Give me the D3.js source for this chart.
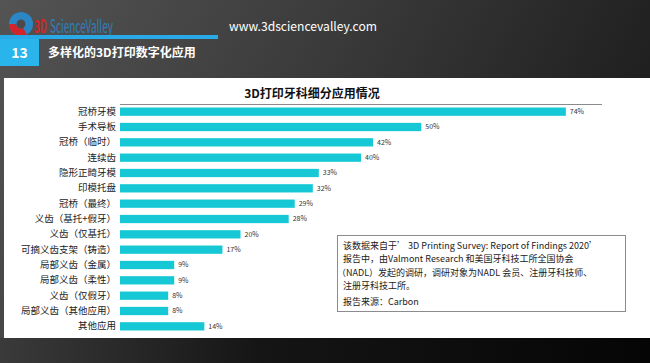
<!DOCTYPE html>
<html><head><meta charset="utf-8">
<script src="https://cdn.jsdelivr.net/npm/d3@7"></script>
<style>
html,body{margin:0;padding:0;background:#2a2a2a;}
svg{display:block;}
text{font-family:"Noto Sans CJK SC","Noto Sans",sans-serif;}
</style></head>
<body>
<svg id="c" width="650" height="363"></svg>
<script>
const categories = ["冠桥牙模","手术导板","冠桥（临时）","连续齿","隐形正畸牙模","印模托盘","冠桥（最终）","义齿（基托+假牙）","义齿（仅基托）","可摘义齿支架（铸造）","局部义齿（金属）","局部义齿（柔性）","义齿（仅假牙）","局部义齿（其他应用）","其他应用"];
const values = [74,50,42,40,33,32,29,28,20,17,9,9,8,8,14];
const chartTitle = "3D打印牙科细分应用情况";
const noteLines = ["该数据来自于’ 3D Printing Survey: Report of Findings 2020’","报告中，由Valmont Research 和美国牙科技工所全国协会","（NADL）发起的调研，调研对象为NADL 会员、注册牙科技师、","注册牙科技工所。","报告来源：Carbon"];

const svg = d3.select("#c");
const defs = svg.append("defs");
const g1 = defs.append("linearGradient").attr("id","bg").attr("x1","0").attr("y1","0").attr("x2","1").attr("y2","0.3");
g1.append("stop").attr("offset","0").attr("stop-color","#545454");
g1.append("stop").attr("offset","0.5").attr("stop-color","#3a3a3a");
g1.append("stop").attr("offset","1").attr("stop-color","#1e1e1e");
const g2 = defs.append("linearGradient").attr("id","bot").attr("x1","0").attr("y1","0").attr("x2","1").attr("y2","0");
g2.append("stop").attr("offset","0").attr("stop-color","#3a3a3a");
g2.append("stop").attr("offset","0.4").attr("stop-color","#151515");
g2.append("stop").attr("offset","1").attr("stop-color","#050505");

svg.append("rect").attr("width",650).attr("height",363).attr("fill","url(#bg)");
svg.append("rect").attr("y",338).attr("width",650).attr("height",25).attr("fill","url(#bot)");

// logo
const logo = svg.append("g");
logo.append("circle").attr("cx",21).attr("cy",24).attr("r",12).attr("fill","#2a86c4");
logo.append("path").attr("d","M9,24 A12,12 0 0 0 27,34.4 L23,28 A5,5 0 0 1 16,24 Z").attr("fill","#d0262b");
logo.append("circle").attr("cx",21).attr("cy",24).attr("r",4.5).attr("fill","#4a4a4a");
function squeezed(txt, x0, w, fill, weight){
  const gg = logo.append("g");
  const t = gg.append("text").attr("x",0).attr("y",0).attr("font-size",18).attr("font-weight",weight).attr("fill",fill).text(txt);
  const nat = t.node().getComputedTextLength() || w;
  gg.attr("transform",`translate(${x0},33) scale(${w/nat},1)`);
}
squeezed("3D",34,13,"#d0262b","bold");
squeezed("ScienceValley",50,63,"#2f7fb8","normal");

svg.append("text").attr("x",229).attr("y",31).attr("font-size",12.5).attr("fill","#ffffff")
  .attr("font-family","'Open Sans',sans-serif").attr("textLength",148).attr("lengthAdjust","spacingAndGlyphs")
  .text("www.3dsciencevalley.com");

svg.append("rect").attr("x",0).attr("y",35).attr("width",218).attr("height",4).attr("fill","#29a9e6");
svg.append("rect").attr("x",0).attr("y",39).attr("width",39).attr("height",27).attr("fill","#29b4ec");
svg.append("text").attr("x",19.5).attr("y",58).attr("text-anchor","middle").attr("font-size",14).attr("font-weight","bold").attr("fill","#fff").text("13");
svg.append("text").attr("x",48).attr("y",57).attr("font-size",12).attr("font-weight","bold").attr("fill","#fff").text("多样化的3D打印数字化应用");

// panel
svg.append("rect").attr("x",4).attr("y",78).attr("width",646).attr("height",260).attr("fill","#ffffff");

svg.append("text").attr("x",312).attr("y",98).attr("text-anchor","middle").attr("font-size",12).attr("font-weight","bold").attr("fill","#111").text(chartTitle);

const x = d3.scaleLinear().domain([0,80]).range([120,602]);
const y = d3.scaleBand().domain(categories).range([104,334]).paddingInner(0.46).paddingOuter(0.23);

svg.append("line").attr("x1",x(0)).attr("x2",x(80)).attr("y1",104.5).attr("y2",104.5).attr("stroke","#8a8a8a").attr("stroke-width",1);

const data = categories.map((c,i)=>({c, v: values[i]}));
svg.append("g").selectAll("rect").data(data).join("rect")
  .attr("x",x(0)).attr("y",d=>y(d.c)).attr("width",d=>x(d.v)-x(0)).attr("height",y.bandwidth()).attr("fill","#16c8d5");

const yAxis = d3.axisLeft(y).tickSize(0).tickPadding(3);
const ag = svg.append("g").attr("transform",`translate(${x(0)-1},0)`).call(yAxis);
ag.select(".domain").remove();
ag.selectAll("text").attr("font-size",9.5).attr("fill","#222").attr("font-family","'Noto Sans CJK SC',sans-serif");

svg.append("g").selectAll("text").data(data).join("text")
  .attr("x",d=>x(d.v)+4).attr("y",d=>y(d.c)+y.bandwidth()/2).attr("dy","0.35em")
  .attr("font-size",7).attr("fill","#333").text(d=>d.v+"%");

// note box
svg.append("rect").attr("x",337.5).attr("y",235.5).attr("width",288).attr("height",76).attr("fill","#fff").attr("stroke","#8c8c8c").attr("stroke-width",1);
const noteY = [249,262,276,289,305];
const noteX = [343,343,337,343,343];
svg.append("g").selectAll("text").data(noteLines).join("text")
  .attr("x",(d,i)=>noteX[i]).attr("y",(d,i)=>noteY[i]).attr("font-size",9).attr("fill","#222").text(d=>d);
</script>
</body></html>
